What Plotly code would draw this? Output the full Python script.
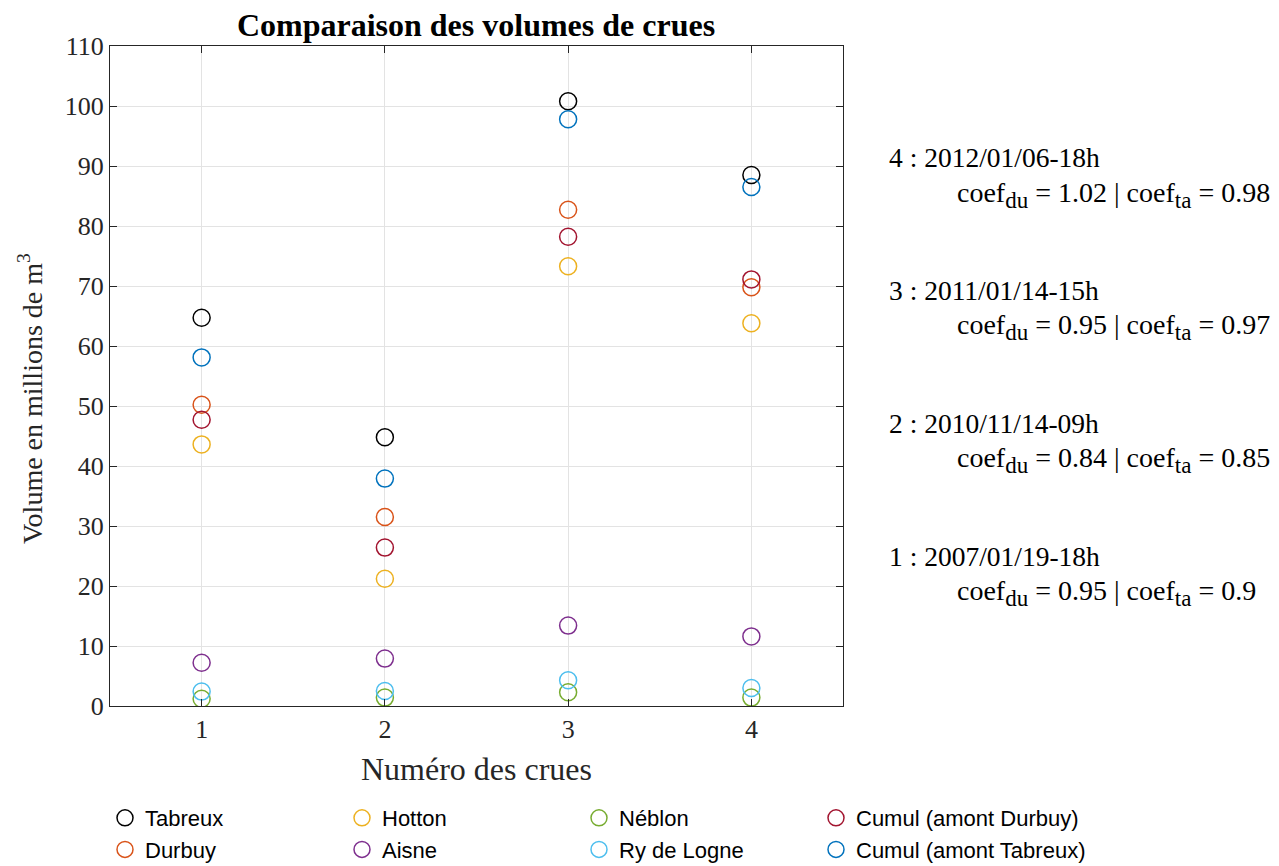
import plotly.graph_objects as go

# crue numbers
crues = [1, 2, 3, 4]

# volumes (millions de m3)
tabreux = [64.7, 44.8, 100.8, 88.5]
durbuy = [50.2, 31.5, 82.7, 69.8]
hotton = [43.6, 21.2, 73.3, 63.8]
aisne = [7.2, 7.9, 13.4, 11.6]
neblon = [1.2, 1.4, 2.3, 1.4]
ry_logne = [2.4, 2.5, 4.3, 3.0]
cumul_durbuy = [47.7, 26.4, 78.2, 71.1]
cumul_tabreux = [58.1, 37.9, 97.8, 86.5]

# event descriptions
dates = ["2007/01/19-18h", "2010/11/14-09h", "2011/01/14-15h", "2012/01/06-18h"]
coef_du = ["0.95", "0.84", "0.95", "1.02"]
coef_ta = ["0.9", "0.85", "0.97", "0.98"]

serif = "Liberation Serif"
sans = "Liberation Sans"

# legend columns (two entries each)
columns = [
    [("Tabreux", tabreux, "#000000"), ("Durbuy", durbuy, "#D95319")],
    [("Hotton", hotton, "#EDB120"), ("Aisne", aisne, "#7E2F8E")],
    [("Néblon", neblon, "#77AC30"), ("Ry de Logne", ry_logne, "#4DBEEE")],
    [("Cumul (amont Durbuy)", cumul_durbuy, "#A2142F"), ("Cumul (amont Tabreux)", cumul_tabreux, "#0072BD")],
]

# page body adds an 8px offset, so work in figure pixels
off = 8
W, H = 1279 - off, 866 - off
plot_l, plot_t, plot_w, plot_h = 110 - off, 46 - off, 733, 660

fig = go.Figure()
legends = {}
for k, col_items in enumerate(columns):
    lname = "legend" if k == 0 else f"legend{k + 1}"
    for name, vals, col in col_items:
        fig.add_trace(
            go.Scatter(
                x=crues,
                y=vals,
                mode="markers",
                name=name,
                legend=lname,
                marker=dict(symbol="circle-open", size=17, color=col, line=dict(width=1.5, color=col)),
            )
        )
    legends[lname] = dict(
        orientation="v", xref="paper", yref="paper",
        x=(105 + 237 * k - off - plot_l) / plot_w, y=-0.1379, xanchor="left", yanchor="top",
        font=dict(family=sans, size=22, color="#000000"),
        bgcolor="rgba(0,0,0,0)", tracegroupgap=0,
    )


def sub(s):
    return f"<sub><span style='font-size:23px'>{s}</span></sub>"


# text on the right of the axes
step = 22.15
for i, c in enumerate(crues):
    y1 = 25.0 + step * i
    fig.add_annotation(
        x=(887 - off - plot_l) / plot_w, y=y1, xref="paper", yref="y", xanchor="left", showarrow=False,
        text=f"{c} : {dates[i]}", font=dict(family=serif, size=27.5, color="#000000"),
    )
    fig.add_annotation(
        x=(955 - off - plot_l) / plot_w, y=y1 - 6.2, xref="paper", yref="y", xanchor="left", showarrow=False,
        text=f"coef{sub('du')} = {coef_du[i]} | coef{sub('ta')} = {coef_ta[i]}",
        font=dict(family=serif, size=28, color="#000000"),
    )

# y axis title, placed as in the reference
fig.add_annotation(
    x=(30 - off - plot_l) / plot_w, y=(706 - 399) / plot_h, xref="paper", yref="paper",
    xanchor="center", yanchor="middle", textangle=-90, showarrow=False,
    text="Volume en millions de m<sup>3</sup>", font=dict(family=serif, size=28, color="#262626"),
)

fig.update_layout(
    width=W,
    height=H,
    margin=dict(l=plot_l, r=W - plot_l - plot_w, t=plot_t, b=H - plot_t - plot_h, autoexpand=False),
    plot_bgcolor="white",
    paper_bgcolor="white",
    title=dict(
        text="<b>Comparaison des volumes de crues</b>",
        x=(476 - off) / W, xanchor="center", y=1 - (25 - off) / H, yanchor="middle",
        font=dict(family=serif, size=32, color="#000000"),
    ),
    showlegend=True,
    **legends,
)

fig.update_xaxes(
    range=[0.5, 4.5], tickvals=crues, ticktext=[str(c) for c in crues],
    title=dict(text="Numéro des crues", font=dict(family=serif, size=32, color="#262626"), standoff=14),
    tickfont=dict(family=serif, size=26, color="#262626"),
    showgrid=True, gridcolor="#E3E3E3", gridwidth=1,
    showline=True, linecolor="#262626", linewidth=1, mirror="allticks",
    ticks="inside", ticklen=7, tickcolor="#262626", zeroline=False,
)
fig.update_yaxes(
    range=[0, 110], tickvals=list(range(0, 111, 10)),
    tickfont=dict(family=serif, size=26, color="#262626"),
    showgrid=True, gridcolor="#E3E3E3", gridwidth=1,
    showline=True, linecolor="#262626", linewidth=1, mirror="allticks",
    ticks="inside", ticklen=7, tickcolor="#262626", zeroline=False,
)

fig.write_html("out.html")
